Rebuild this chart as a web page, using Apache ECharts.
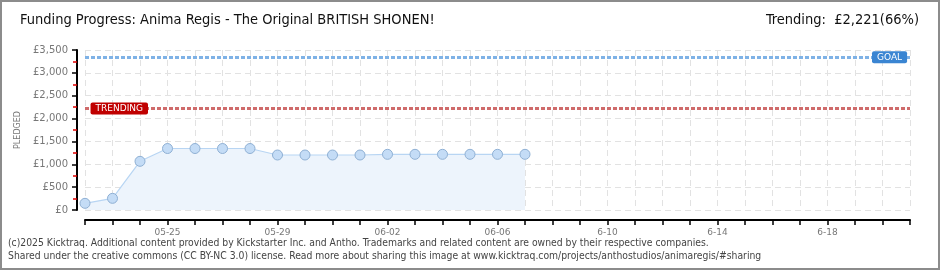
<!DOCTYPE html>
<html>
<head>
<meta charset="utf-8">
<script src="https://cdn.jsdelivr.net/npm/echarts@6/dist/echarts.min.js"></script>
<style>
html,body{margin:0;padding:0;background:#fff;}
#chart{width:940px;height:270px;}
</style>
</head>
<body>
<div id="chart"></div>
<script>
// ---- data ----
const categories = ["05-22","05-23","05-24","05-25","05-26","05-27","05-28","05-29","05-30","05-31","06-01","06-02","06-03","06-04","06-05","06-06","06-07","06-08","06-09","06-10","06-11","06-12","06-13","06-14","06-15","06-16","06-17","06-18","06-19","06-20","06-21"];
const tickLabels = {"05-25":"05-25","05-29":"05-29","06-02":"06-02","06-06":"06-06","06-10":"6-10","06-14":"6-14","06-18":"6-18"};
const pledged = [146,255,1065,1345,1345,1345,1345,1203,1203,1203,1203,1218,1218,1218,1218,1218,1218];
const goal = 3340;
const trending = 2221;
const yTicks = [0,500,1000,1500,2000,2500,3000,3500];
const titleText = "Funding Progress: Anima Regis - The Original BRITISH SHONEN!";
const trendText = "Trending:  £2,221(66%)";
const footer1 = "(c)2025 Kicktraq. Additional content provided by Kickstarter Inc. and Antho. Trademarks and related content are owned by their respective companies.";
const footer2 = "Shared under the creative commons (CC BY-NC 3.0) license. Read more about sharing this image at www.kicktraq.com/projects/anthostudios/animaregis/#sharing";

const chart = echarts.init(document.getElementById('chart'));
const fmtMoney = v => '£' + v.toLocaleString('en-US');
const axisFont = 'DejaVu Sans';
const headFont = '14.5px "Liberation Sans Narrow", "DejaVu Sans Condensed", sans-serif';
const footFont = '10.3px "DejaVu Sans Condensed", sans-serif';

chart.setOption({
  animation: false,
  backgroundColor: '#fff',
  graphic: [
    {type:'rect', shape:{x:1,y:1,width:938,height:268}, style:{fill:'none', stroke:'#8c8c8c', lineWidth:2}, z:100},
    {type:'text', left:20, top:13, style:{text:titleText, font:headFont, fill:'#111'}},
    {type:'text', right:21, top:13, style:{text:trendText, font:headFont, fill:'#111'}},
    {type:'text', left:8, top:238, style:{text:footer1, font:footFont, fill:'#444'}},
    {type:'text', left:8, top:251, style:{text:footer2, font:footFont, fill:'#444'}}
  ],
  grid: {left:85, right:30, top:50, bottom:60, containLabel:false, outerBoundsMode:'none'},
  xAxis: {
    type:'category',
    data: categories,
    boundaryGap:false,
    offset:10,
    axisLine:{onZero:false, lineStyle:{color:'#000', width:2}},
    axisTick:{show:true, interval:0, length:5, lineStyle:{color:'#000', width:1.5}},
    axisLabel:{
      interval:0,
      formatter: v => tickLabels[v] || '',
      color:'#777', fontFamily:axisFont, fontSize:9, margin:8
    },
    splitLine:{show:true, interval:0, lineStyle:{color:'#e2e2e2', type:[6,4], width:1}}
  },
  yAxis: {
    type:'value',
    min: yTicks[0], max: yTicks[yTicks.length-1], interval:500,
    offset:8,
    name:'PLEDGED', nameLocation:'middle', nameGap:48, nameRotate:90,
    nameTextStyle:{color:'#777', fontFamily:axisFont, fontSize:8},
    axisLine:{onZero:false, show:true, lineStyle:{color:'#000', width:2}},
    axisTick:{show:true, length:5, lineStyle:{color:'#000', width:1.5}},
    minorTick:{show:true, splitNumber:2, length:4, lineStyle:{color:'#e00000', width:1.5}},
    axisLabel:{formatter: fmtMoney, color:'#777', fontFamily:axisFont, fontSize:10, margin:9},
    splitLine:{show:true, lineStyle:{color:'#e2e2e2', type:[6,4], width:1}}
  },
  series: [{
    type:'line',
    data: pledged,
    symbol:'circle', symbolSize:10,
    lineStyle:{color:'#b8d5f3', width:1.2},
    itemStyle:{color:'#c4dcf6', borderColor:'#8fb0d4', borderWidth:1},
    areaStyle:{color:'#edf4fc', opacity:1},
    z:3,
    markLine:{
      silent:true, symbol:'none',
      data:[
        {yAxis:goal, lineStyle:{color:'#7fb2e6', width:3, type:[4,2]},
          label:{show:true, position:'end', distance:-38, formatter:'GOAL', color:'#fff', backgroundColor:'#3a85d2', padding:[2,5,1,5], borderRadius:2, fontFamily:axisFont, fontSize:9}},
        {yAxis:trending, lineStyle:{color:'#cf6b6b', width:3, type:[4,2]},
          label:{show:true, position:'start', distance:-63, formatter:'TRENDING', color:'#fff', backgroundColor:'#c00000', padding:[2,5,1,5], borderRadius:2, fontFamily:axisFont, fontSize:9}}
      ]
    }
  }]
});
</script>
</body>
</html>
